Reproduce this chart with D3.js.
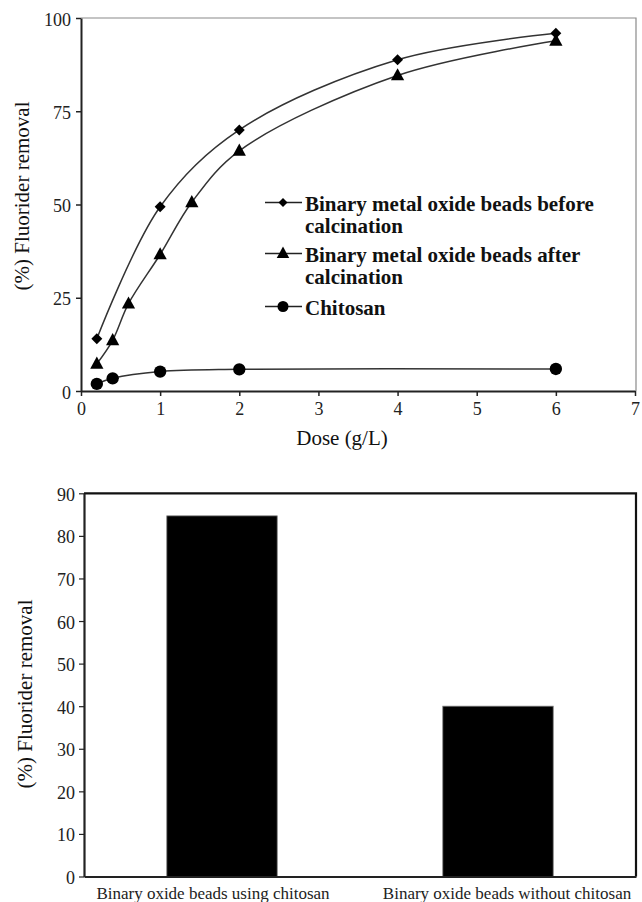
<!DOCTYPE html>
<html>
<head>
<meta charset="utf-8">
<script src="https://cdn.jsdelivr.net/npm/d3@7"></script>
<style>
  html, body { margin: 0; padding: 0; background: #fff; }
  svg { display: block; }
</style>
</head>
<body>
<svg id="fig" width="642" height="902"></svg>
<script>
// ---- Panel (a): fluoride removal vs. dose ----
const doseTicks = [0, 1, 2, 3, 4, 5, 6, 7];
const removalTicks = [0, 25, 50, 75, 100];

const beforeDose = [0.2, 1, 2, 4, 6];
const beforeRemoval = [14.0, 49.4, 70.0, 88.8, 95.9];

const afterDose = [0.2, 0.4, 0.6, 1, 1.4, 2, 4, 6];
const afterRemoval = [7.3, 13.6, 23.4, 36.6, 50.6, 64.4, 84.6, 93.9];

const chitosanDose = [0.2, 0.4, 1, 2, 6];
const chitosanRemoval = [1.9, 3.4, 5.2, 5.8, 5.9];

const seriesNames = [
  ["Binary metal oxide beads before", "calcination"],
  ["Binary metal oxide beads after", "calcination"],
  ["Chitosan"]
];

// ---- Panel (b): comparison bars ----
const barCategories = ["Binary oxide beads using chitosan", "Binary oxide beads without chitosan"];
const barValues = [84.7, 40];
const barTicks = [0, 10, 20, 30, 40, 50, 60, 70, 80, 90];

const SERIF = "Times New Roman";
const svg = d3.select("#fig").attr("font-family", SERIF);

// marker shapes
const diamondType = {
  draw(ctx, size) {
    const r = Math.sqrt(size / 2);
    ctx.moveTo(0, -r); ctx.lineTo(r, 0); ctx.lineTo(0, r); ctx.lineTo(-r, 0); ctx.closePath();
  }
};
const triangleType = {
  draw(ctx, size) {
    const w = Math.sqrt(size) * 1.5;
    const h = w * 0.92;
    ctx.moveTo(0, -h * 0.6); ctx.lineTo(w / 2, h * 0.4); ctx.lineTo(-w / 2, h * 0.4); ctx.closePath();
  }
};

function label(sel, size, bold) {
  sel.attr("font-family", SERIF).attr("font-size", size).attr("dx", 0)
    .style("font-family", SERIF).style("font-size", size + "px");
  if (bold) sel.attr("font-weight", "bold").style("font-weight", "bold");
  return sel;
}

// ================= Panel (a) =================
const A = { left: 81, top: 18, right: 635, bottom: 391 };
const xA = d3.scaleLinear().domain([0, 7]).range([A.left, A.right]);
const yA = d3.scaleLinear().domain([0, 100]).range([A.bottom, A.top]);

const gA = svg.append("g");

// frame (top and right in light grey)
gA.append("path")
  .attr("d", `M${A.left},${A.top}H${A.right + 1}V${A.bottom}`)
  .attr("fill", "none").attr("stroke", "#8a8a8a").attr("stroke-width", 1.2);

const axA_x = gA.append("g").attr("transform", `translate(0,${A.bottom})`)
  .call(d3.axisBottom(xA).tickValues(doseTicks).tickSize(5).tickSizeOuter(0).tickFormat(d3.format("d")));
const axA_y = gA.append("g").attr("transform", `translate(${A.left},0)`)
  .call(d3.axisLeft(yA).tickValues(removalTicks).tickSize(5).tickSizeOuter(0));

[axA_x, axA_y].forEach(ax => {
  ax.attr("font-family", SERIF).attr("font-size", 18);
  ax.select(".domain").attr("stroke", "#222").attr("stroke-width", 2);
  ax.selectAll(".tick line").attr("stroke", "#222").attr("stroke-width", 1.5);
  label(ax.selectAll("text"), 18).attr("fill", "#222");
});
axA_x.selectAll("text").attr("y", 24).attr("dy", 0);
axA_y.selectAll("text").attr("x", -10).attr("dy", 7);

label(gA.append("text").text("Dose (g/L)"), 21).attr("x", 342).attr("y", 445)
  .attr("text-anchor", "middle").attr("fill", "#111");
label(gA.append("text").text("(%) Fluorider removal"), 21).attr("transform", "translate(29,196) rotate(-90)")
  .attr("text-anchor", "middle").attr("fill", "#111");

const lineA = d3.line().x(d => xA(d[0])).y(d => yA(d[1])).curve(d3.curveCatmullRom.alpha(0.5));
const seriesA = [
  { xs: beforeDose, ys: beforeRemoval, type: diamondType, size: 60, legendSize: 40 },
  { xs: afterDose, ys: afterRemoval, type: triangleType, size: 78, legendSize: 70 },
  { xs: chitosanDose, ys: chitosanRemoval, type: d3.symbolCircle, size: 120, legendSize: 95 }
];

seriesA.forEach(s => {
  const pts = s.xs.map((x, i) => [x, s.ys[i]]);
  gA.append("path").attr("d", lineA(pts)).attr("fill", "none")
    .attr("stroke", "#333").attr("stroke-width", 1.5);
  gA.append("g").selectAll("path").data(pts).join("path")
    .attr("transform", d => `translate(${xA(d[0])},${yA(d[1])})`)
    .attr("d", d3.symbol().type(s.type).size(s.size)).attr("fill", "#000");
});

// legend
const legendBase = [211, 262, 315];
const legend = gA.append("g");
seriesA.forEach((s, i) => {
  const ly = legendBase[i] - 8.5;
  legend.append("line").attr("x1", 265).attr("x2", 302).attr("y1", ly).attr("y2", ly)
    .attr("stroke", "#222").attr("stroke-width", 1.5);
  legend.append("path").attr("transform", `translate(283,${ly})`)
    .attr("d", d3.symbol().type(s.type).size(s.legendSize)).attr("fill", "#000");
  seriesNames[i].forEach((line, j) => {
    label(legend.append("text").text(line), 21, true).attr("x", 305).attr("y", legendBase[i] + j * 22)
      .attr("fill", "#111");
  });
});

// ================= Panel (b) =================
const B = { left: 84, top: 493.3, right: 636, bottom: 876.5 };
const xB = d3.scaleBand().domain(barCategories).range([B.left, B.right])
  .paddingInner(0.6).paddingOuter(0.3);
const yB = d3.scaleLinear().domain([0, 90]).range([B.bottom, B.top]);

const gB = svg.append("g");

gB.selectAll("rect.bar").data(barCategories).join("rect").attr("class", "bar")
  .attr("x", d => xB(d)).attr("width", xB.bandwidth())
  .attr("y", (d, i) => yB(barValues[i])).attr("height", (d, i) => yB(0) - yB(barValues[i]))
  .attr("fill", "#000").attr("stroke", "#777").attr("stroke-width", 0.8);

// frame
gB.append("path")
  .attr("d", `M${B.left},${B.top}H${B.right}V${B.bottom}`)
  .attr("fill", "none").attr("stroke", "#111").attr("stroke-width", 2.2);

const axB_x = gB.append("g").attr("transform", `translate(0,${B.bottom})`)
  .call(d3.axisBottom(xB).tickSize(0).tickSizeOuter(0));
const axB_y = gB.append("g").attr("transform", `translate(${B.left},0)`)
  .call(d3.axisLeft(yB).tickValues(barTicks).tickSize(5).tickSizeOuter(0));

[axB_x, axB_y].forEach(ax => {
  ax.attr("font-family", SERIF).attr("font-size", 18);
  ax.select(".domain").attr("stroke", "#222").attr("stroke-width", 2.2);
  ax.selectAll(".tick line").attr("stroke", "#222").attr("stroke-width", 1.2);
});
label(axB_x.selectAll("text"), 17).attr("fill", "#222").attr("y", 22).attr("dy", 0)
  .attr("dx", (d, i) => i === 0 ? -9 : 9);
label(axB_y.selectAll("text"), 18).attr("fill", "#222").attr("x", -9).attr("dy", 7);

label(gB.append("text").text("(%) Fluorider removal"), 21).attr("transform", "translate(32,694) rotate(-90)")
  .attr("text-anchor", "middle").attr("fill", "#111");
</script>
</body>
</html>
